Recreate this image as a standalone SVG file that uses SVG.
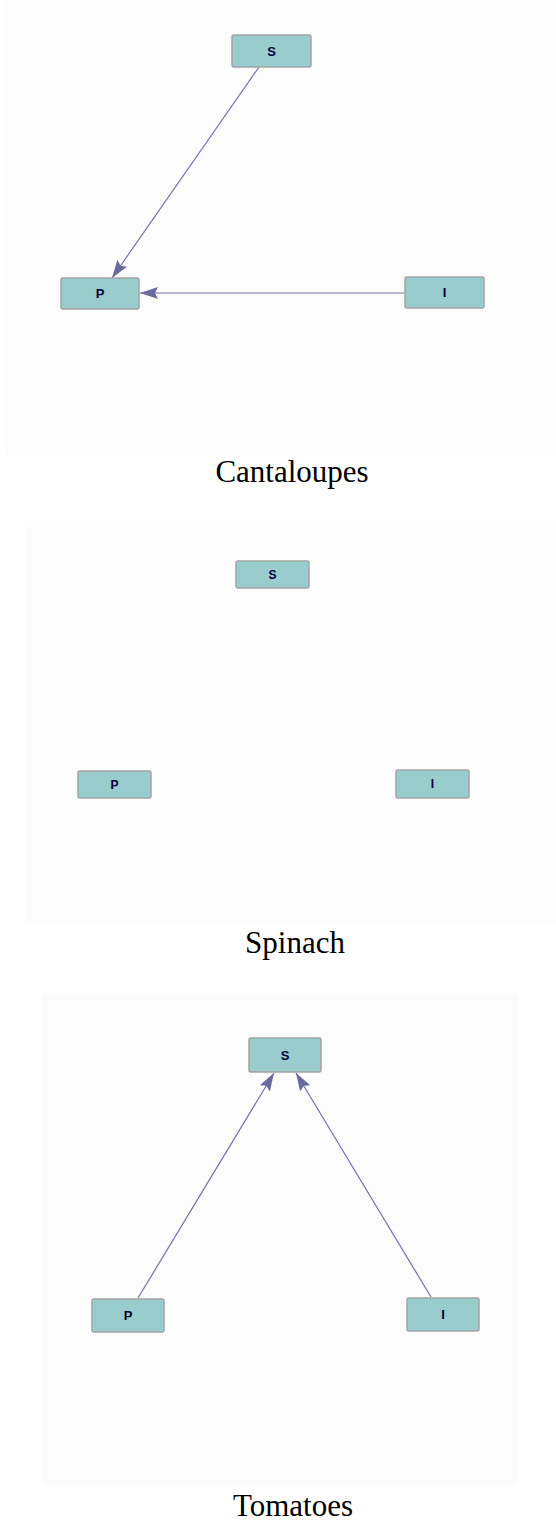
<svg xmlns="http://www.w3.org/2000/svg" width="556" height="1521" viewBox="0 0 556 1521">
<style>
.bg{fill:#fcfcfc}
.node rect{fill:#99cccc;stroke:#a3a3a3;stroke-width:1.5}
.node text{font-family:"Liberation Sans",Arial,sans-serif;font-weight:bold;font-size:13px;fill:#000033;text-anchor:middle;dominant-baseline:central}
.small text{font-size:12px}
.edge{stroke:#7272a8;stroke-width:1.2;fill:none;marker-end:url(#arr)}
.title{font-family:"Liberation Serif","Times New Roman",serif;font-size:31px;fill:#000;text-anchor:middle}
</style>
<defs>
<marker id="arr" viewBox="0 0 18 12" refX="18" refY="6" markerWidth="18" markerHeight="12" orient="auto" markerUnits="userSpaceOnUse">
<path d="M0,0 L18,6 L0,12 L3,6 z" fill="#6a6aa0"/>
</marker>
</defs>
<rect width="556" height="1521" fill="#ffffff"/>
<rect class="bg" x="5" y="0" width="551" height="455"/>
<rect class="bg" x="27" y="527" width="529" height="396"/>
<rect class="bg" x="42" y="994" width="476" height="491"/>

<g id="connectors">
<line class="edge" x1="259" y1="67" x2="112" y2="278"/>
<line class="edge" x1="405" y1="293" x2="140" y2="293"/>
<line class="edge" x1="138" y1="1298" x2="274" y2="1073"/>
<line class="edge" x1="431" y1="1297" x2="296" y2="1073"/>
</g>

<g id="c-S" class="node"><rect x="232" y="35" width="79" height="32" rx="2"/><text x="271.5" y="51">S</text></g>
<g id="c-P" class="node"><rect x="61" y="278" width="78" height="31" rx="2"/><text x="100" y="293.5">P</text></g>
<g id="c-I" class="node"><rect x="405" y="277" width="79" height="31" rx="2"/><text x="444.5" y="292.5">I</text></g>
<text id="t-cantaloupes" class="title" x="292" y="482">Cantaloupes</text>

<g id="s-S" class="node small"><rect x="236" y="561" width="73" height="27" rx="2"/><text x="272.5" y="574.5">S</text></g>
<g id="s-P" class="node small"><rect x="78" y="771" width="73" height="27" rx="2"/><text x="114.5" y="784.5">P</text></g>
<g id="s-I" class="node small"><rect x="396" y="770" width="73" height="28" rx="2"/><text x="432.5" y="784">I</text></g>
<text id="t-spinach" class="title" x="295" y="953">Spinach</text>

<g id="t-S" class="node"><rect x="249" y="1038" width="72" height="34" rx="2"/><text x="285" y="1055">S</text></g>
<g id="t-P" class="node"><rect x="92" y="1299" width="72" height="33" rx="2"/><text x="128" y="1315.5">P</text></g>
<g id="t-I" class="node"><rect x="407" y="1298" width="72" height="33" rx="2"/><text x="443" y="1314.5">I</text></g>
<text id="t-tomatoes" class="title" x="293" y="1516">Tomatoes</text>
</svg>
